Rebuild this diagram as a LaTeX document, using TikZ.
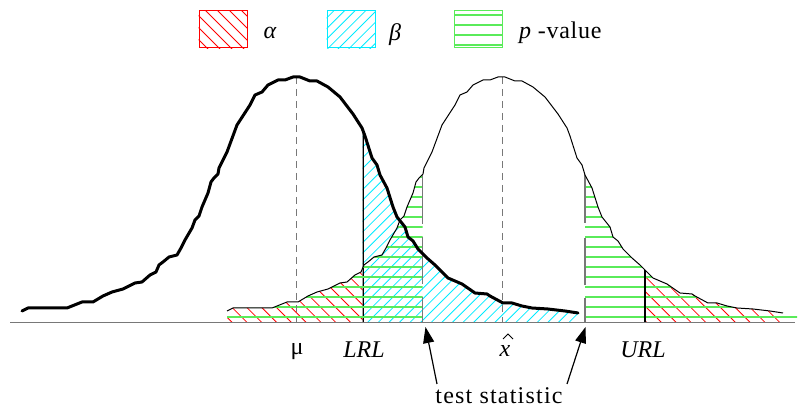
\documentclass[tikz,border=0pt]{standalone}
\usepackage{fontspec}
\setmainfont{Liberation Serif}
\usetikzlibrary{arrows.meta}
\definecolor{pgreen}{RGB}{90,235,90}
\definecolor{axgray}{RGB}{120,120,120}
\definecolor{hcyan}{RGB}{0,235,255}
\def\bellpath{(227,311) -- (233,308) -- (272,308) -- (282,304) -- (287,302) -- (298,302) -- (308,296) -- (317,292) -- (328,289) -- (340,283) -- (347,282) -- (355,275) -- (361,272) -- (364,265) -- (368,262) -- (374,257) -- (382,255) -- (386,248) -- (390,240) -- (397,228) -- (400,220) -- (404,216) -- (407,207) -- (413,193) -- (416,182) -- (419,178) -- (423,174) -- (424,168) -- (432,152) -- (442,125) -- (455,105) -- (460,95) -- (467,92) -- (473,85) -- (483,80) -- (490,80) -- (498,77) -- (505,77) -- (515,81) -- (522,81) -- (533,87) -- (545,97) -- (558,114) -- (567,128) -- (570,136) -- (577,158) -- (582,165) -- (585,175) -- (592,188) -- (598,207) -- (602,217) -- (610,227) -- (613,237) -- (618,241) -- (623,249) -- (632,258) -- (640,265) -- (645,270) -- (653,278) -- (667,284) -- (680,293) -- (692,294) -- (695,296) -- (708,303) -- (717,303) -- (727,306) -- (737,308) -- (753,309) -- (770,311) -- (783,313)}
\begin{document}
\begin{tikzpicture}[x=1pt,y=-1pt,
  hred/.style={draw=red, line width=0.8pt},
  hcy/.style={draw=hcyan, line width=0.8pt},
  hgr/.style={draw=pgreen, line width=1.7pt},
  thincurve/.style={draw=black, line width=1pt, line join=round},
  thickcurve/.style={draw=black, line width=3pt, line join=round, line cap=round},
  limitline/.style={draw=black, line width=2pt},
  statline/.style={draw=axgray, line width=1.5pt},
  meanline/.style={draw=axgray, line width=1.2pt, dash pattern=on 7pt off 5pt},
  axisline/.style={draw=axgray, line width=1.6pt},
  lab/.style={font=\fontsize{24}{28}\selectfont, inner sep=0pt},
  leglab/.style={font=\fontsize{24}{28}\selectfont, inner sep=0pt},
  legbox/.style={minimum width=48pt, minimum height=37pt, inner sep=0pt, line width=1pt},
  arr/.style={draw=black, line width=1.2pt, -{Triangle[length=16pt,width=11pt]}}]
\useasboundingbox (0,0) rectangle (804,411);

% ---- alpha hatching (red) under the right curve tails
\begin{scope}
  \clip (200,0) rectangle (362.7,330);
  \clip \bellpath -- (783,323) -- (227,323) -- cycle;
  \foreach \c in {0,...,45} \draw[hred] ({218+14.8*\c-330},-7) -- ({218+14.8*\c+20},343);
\end{scope}
\begin{scope}
  \clip (645,0) rectangle (800,330);
  \clip \bellpath -- (783,323) -- (227,323) -- cycle;
  \foreach \c in {0,...,45} \draw[hred] ({218+14.8*\c-330},-7) -- ({218+14.8*\c+20},343);
\end{scope}

% ---- beta hatching (cyan) under the left curve, right of LRL
\begin{scope}
  \clip (362.7,0) rectangle (600,330);
  \begin{scope}[xshift=-205pt]
    \clip \bellpath -- (783,323) -- (227,323) -- cycle;
    \foreach \c in {0,...,50} \draw[hcy] ({360+10.6*\c-20},343) -- ({360+10.6*\c+330},-7);
    \draw[limitline] (567.7,100) -- (567.7,323);
  \end{scope}
\end{scope}

% ---- p-value hatching (green)
\begin{scope}
  \clip (200,0) rectangle (422.7,330);
  \clip \bellpath -- (783,323) -- (227,323) -- cycle;
  \foreach \k in {0,...,24} \draw[hgr] (200,{316.7-10*\k}) -- (800,{316.7-10*\k});
\end{scope}
\begin{scope}
  \clip (585,0) rectangle (800,330);
  \clip \bellpath -- (797,313) -- (797,323) -- (227,323) -- cycle;
  \foreach \k in {0,...,24} \draw[hgr] (200,{316.7-10*\k}) -- (800,{316.7-10*\k});
\end{scope}

% ---- limit and statistic lines, clipped by the right curve
\begin{scope}
  \clip \bellpath -- (783,323) -- (227,323) -- cycle;
  \draw[limitline] (645,200) -- (645,323);
  \draw[statline] (422.7,150) -- (422.7,224) (422.7,237) -- (422.7,284) (422.7,297) -- (422.7,323);
  \draw[statline] (585,150) -- (585,223) (585,238) -- (585,285) (585,298) -- (585,323);
\end{scope}

% ---- mean lines
\coordinate (mutop) at (296.7,77);
\coordinate (mubot) at (296.7,323);
\coordinate (xhtop) at (502.7,77);
\coordinate (xhbot) at (502.7,323);
\draw[meanline] (mutop) -- (mubot);
\draw[meanline] (xhtop) -- (xhbot);

% ---- axis
\coordinate (axL) at (10,322.5);
\coordinate (axR) at (795,322.5);
\draw[axisline] (axL) -- (axR);

% ---- curves
\draw[thincurve] \bellpath;
\draw[thickcurve, xshift=-205pt] \bellpath;

% ---- axis labels
\node[lab] (mu) at (297,352) {μ};
\node[lab] (lrl) at (364,350) {\itshape LRL};
\node[lab] (xhat) at (505,351) {\itshape x};
\coordinate (hatL) at (503,339);
\coordinate (hatT) at (508,334);
\coordinate (hatR) at (513,339);
\draw[line width=1pt] (hatL) -- (hatT) -- (hatR);
\node[lab] (url) at (643,350) {\itshape URL};
\node[lab] (ts) at (499,396) {\addfontfeature{LetterSpace=5}test statistic};
\coordinate (t1) at (437,384);
\coordinate (t2) at (567,384);
\coordinate (h1) at (425.5,327);
\coordinate (h2) at (585.5,327);
\draw[arr] (t1) -- (h1);
\draw[arr] (t2) -- (h2);

% ---- legend
\node[legbox, draw=red] (legA) at (223,29.5) {};
\begin{scope}
  \clip (legA.south west) rectangle (legA.north east);
  \foreach \c in {0,...,9} \draw[hred] ({195+12*\c-60},-12) -- ({195+12*\c+5},53);
\end{scope}
\node[legbox, draw=hcyan] (legB) at (351,29.5) {};
\begin{scope}
  \clip (legB.south west) rectangle (legB.north east);
  \foreach \c in {0,...,12} \draw[hcy] ({286+10.6*\c-5},53) -- ({286+10.6*\c+60},-12);
\end{scope}
\node[legbox, draw=pgreen] (legC) at (478.5,29.5) {};
\foreach \y in {15,25,35,45} \draw[hgr] (legC.west |- 0,\y) -- (legC.east |- 0,\y);
\node[leglab] (la) at (270,33) {\itshape α};
\node[leglab] (lb) at (395,35) {\itshape β};
\node[leglab, anchor=west] (lp) at (519,33) {\addfontfeature{LetterSpace=3}\itshape p\upshape\ -value};
\end{tikzpicture}
\end{document}
